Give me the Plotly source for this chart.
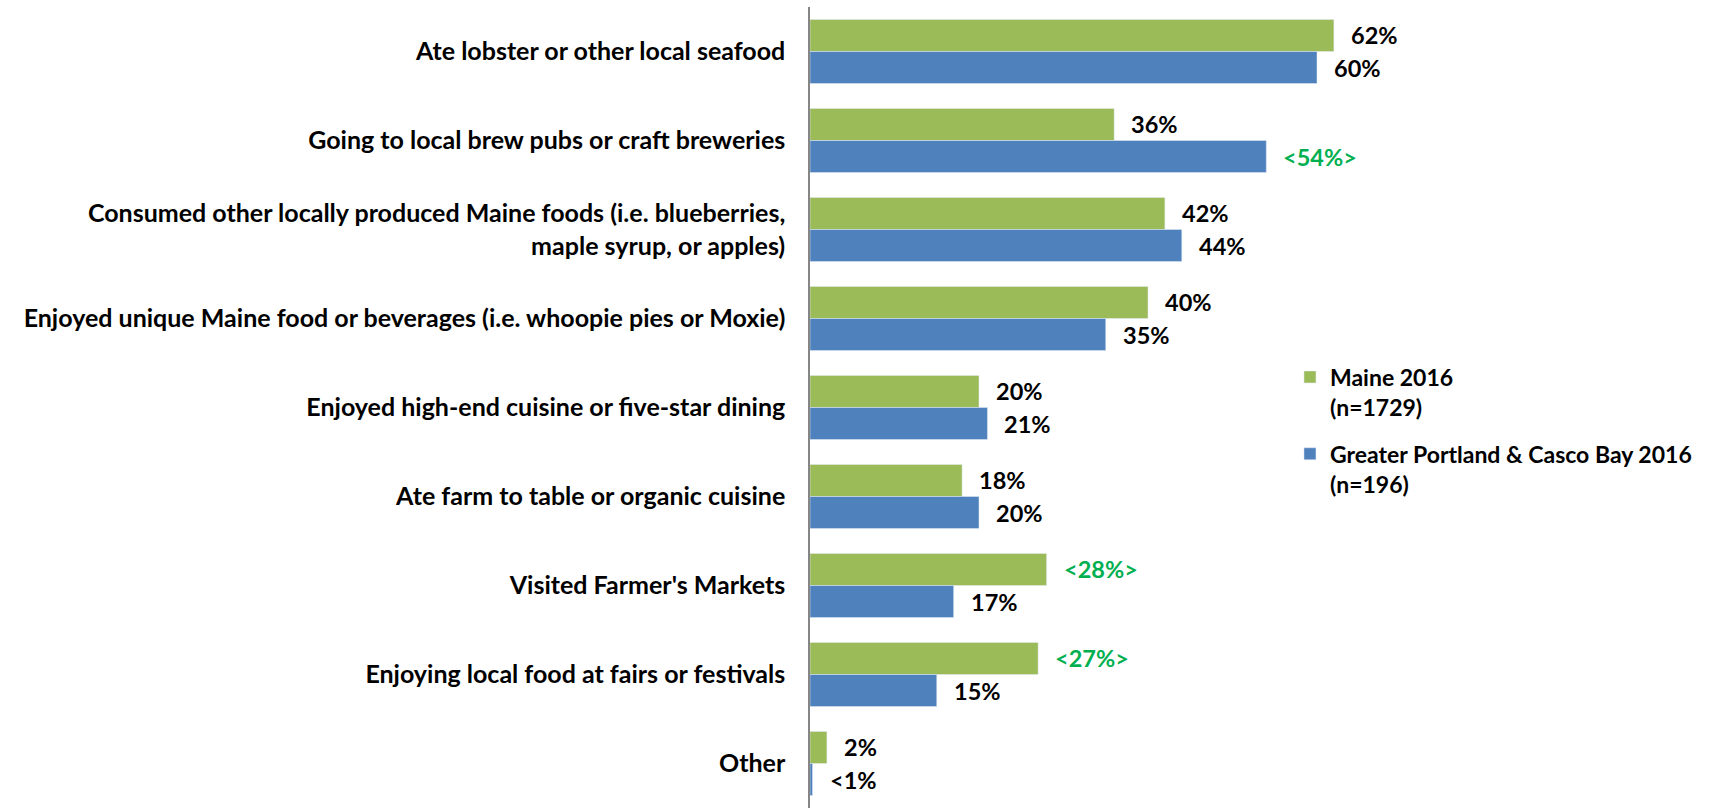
import plotly.graph_objects as go

# Survey categories (top to bottom)
categories = [
    "Ate lobster or other local seafood",
    "Going to local brew pubs or craft breweries",
    "Consumed other locally produced Maine foods (i.e. blueberries,<br>maple syrup, or apples)",
    "Enjoyed unique Maine food or beverages (i.e. whoopie pies or Moxie)",
    "Enjoyed high-end cuisine or five-star dining",
    "Ate farm to table or organic cuisine",
    "Visited Farmer's Markets",
    "Enjoying local food at fairs or festivals",
    "Other",
]

maine_values = [62, 36, 42, 40, 20, 18, 28, 27, 2]
maine_labels = ["62%", "36%", "42%", "40%", "20%", "18%", "<28%>", "<27%>", "2%"]

portland_values = [60, 54, 44, 35, 21, 20, 17, 15, 0.3]
portland_labels = ["60%", "<54%>", "44%", "35%", "21%", "20%", "17%", "15%", "<1%"]

series_names = ["Maine 2016<br>(n=1729)", "Greater Portland & Casco Bay 2016<br>(n=196)"]

GREEN = "#9BBB59"
BLUE = "#4F81BD"
HIGHLIGHT = "#00B050"
FONT = "Lato"

fig = go.Figure()
fig.add_trace(go.Bar(y=categories, x=maine_values, orientation="h",
                     name=series_names[0], legendgroup="maine",
                     marker_color=GREEN))
fig.add_trace(go.Bar(y=categories, x=portland_values, orientation="h",
                     name=series_names[1], legendgroup="portland",
                     marker_color=BLUE))

# Value labels placed just right of each bar end
annotations = []
for i, cat in enumerate(categories):
    for vals, labels, off in ((maine_values, maine_labels, -0.18),
                              (portland_values, portland_labels, 0.18)):
        lab = labels[i]
        color = HIGHLIGHT if lab.startswith("<") and lab.endswith(">") else "black"
        annotations.append(dict(
            x=vals[i], y=i + off, xref="x", yref="y",
            text=f"<b>{lab}</b>", showarrow=False,
            xanchor="left", yanchor="middle", xshift=15,
            font=dict(family=FONT, size=23.5, color=color),
        ))

fig.update_layout(
    width=1735, height=808,
    margin=dict(l=810, r=80, t=7, b=0, autoexpand=False),
    paper_bgcolor="white", plot_bgcolor="white",
    barmode="group", bargap=0.28, bargroupgap=0,
    font=dict(family=FONT, size=23, color="black"),
    showlegend=True,
    legend=dict(
        xref="container", yref="container",
        x=0.7435, y=0.56, xanchor="left", yanchor="top",
        valign="top",
        font=dict(family=FONT, size=23, color="black", weight="bold"),
        traceorder="grouped", itemwidth=30, tracegroupgap=14,
        bgcolor="rgba(0,0,0,0)",
    ),
    annotations=annotations,
)

fig.update_xaxes(range=[0, 100], visible=False, showgrid=False, zeroline=False)
fig.update_yaxes(
    autorange="reversed", showgrid=False, zeroline=False,
    showline=True, linecolor="#868686", linewidth=1.5,
    ticks="", ticklabelstandoff=18,
    tickfont=dict(family=FONT, size=25, color="black", weight="bold"),
)

fig.write_html("out.html")
